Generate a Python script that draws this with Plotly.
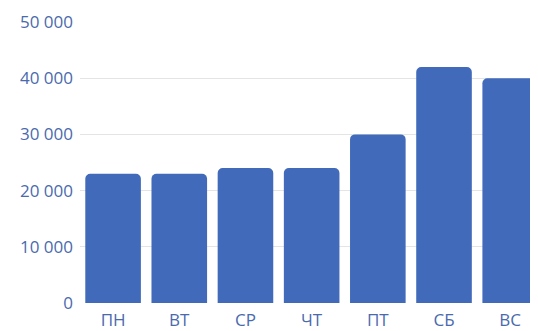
import plotly.graph_objects as go

days = ["ПН", "ВТ", "СР", "ЧТ", "ПТ", "СБ", "ВС"]
values = [23000, 23000, 24000, 24000, 30000, 42000, 40000]
y_ticks = [0, 10000, 20000, 30000, 40000, 50000]

bar_color = "#416bba"
text_color = "#4a6aad"

fig = go.Figure(go.Bar(
    x=list(range(len(days))),
    y=values,
    marker=dict(color=bar_color, line=dict(width=0), cornerradius=5),
))

fig.update_layout(
    width=530, height=323,
    margin=dict(l=72, r=0, t=14, b=28),
    plot_bgcolor="white", paper_bgcolor="white",
    bargap=0.16,
    separators=", ",
    font=dict(family="Open Sans", size=17, color=text_color),
    showlegend=False,
    xaxis=dict(
        tickmode="array", tickvals=list(range(len(days))), ticktext=days,
        range=[-0.5, 6.42], showgrid=False, zeroline=False, showline=False,
        ticks="", ticklabelstandoff=5, tickfont=dict(size=17, color=text_color),
    ),
    yaxis=dict(
        range=[0, 50000], tickvals=y_ticks, tickformat=",d",
        showgrid=True, gridcolor="#e4e4e4", gridwidth=1,
        zeroline=False, showline=False, ticks="", ticklabelstandoff=6,
        tickfont=dict(size=17, color=text_color),
    ),
)

fig.write_html("out.html")
